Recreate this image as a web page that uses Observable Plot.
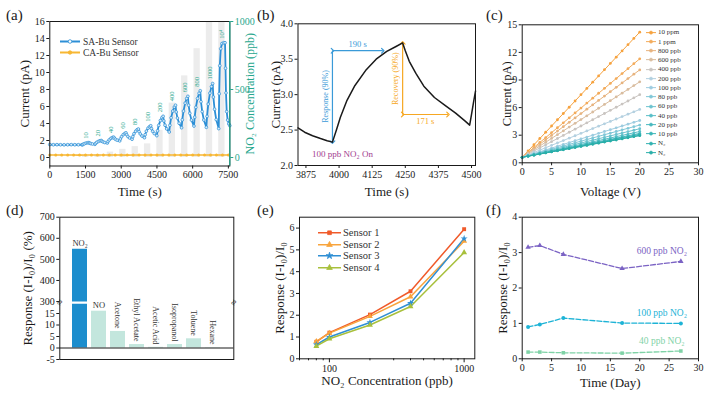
<!DOCTYPE html>
<html><head><meta charset="utf-8">
<script src="https://cdn.jsdelivr.net/npm/d3@7"></script>
<script src="https://cdn.jsdelivr.net/npm/@observablehq/plot@0.6"></script>
<style>
body{margin:0;background:#fff;}
#fig{position:relative;width:708px;height:395px;overflow:hidden;font-family:"Liberation Serif","Times New Roman",serif;color:#1a1a1a;}
.plabel{position:absolute;font-size:15px;line-height:15px;}
.legend{position:absolute;white-space:nowrap;}
.legend .row{display:flex;align-items:center;}
</style></head><body><div id="fig"></div>
<script>
// ================= DATA =================
// (a) dynamic response
const saTime = [0,150,300,450,600,750,900,1050,1200,1350,
 1375,1405,1455,1525,1590,1640,1670,1720,1790,
 1895,1925,1975,2045,2110,2160,2190,2240,2310,
 2415,2445,2495,2565,2630,2680,2710,2760,2830,
 2935,2965,3015,3085,3150,3200,3230,3280,3350,
 3455,3485,3535,3605,3670,3720,3750,3800,3870,
 3975,4005,4055,4125,4190,4240,4270,4320,4390,
 4495,4525,4575,4645,4710,4760,4790,4840,4910,
 5015,5045,5095,5165,5230,5280,5310,5360,5430,
 5535,5565,5615,5685,5750,5800,5830,5880,5950,
 6055,6085,6135,6205,6270,6320,6350,6400,6470,
 6575,6605,6655,6725,6790,6840,6870,6920,6990,
 7095,7115,7140,7180,7230,7300,7360,7380,7400,7430,7470,7520,7560];
const saCurrent = [1.52,1.5,1.51,1.5,1.49,1.5,1.51,1.5,1.5,1.5,
 1.5,1.56,1.63,1.70,1.73,1.75,1.69,1.64,1.59,
 1.55,1.66,1.79,1.90,1.97,2.0,1.91,1.83,1.76,
 1.7,1.88,2.07,2.25,2.35,2.4,2.27,2.14,2.04,
 1.95,2.19,2.45,2.69,2.83,2.9,2.68,2.47,2.3,
 2.15,2.45,2.79,3.09,3.27,3.35,3.04,2.77,2.53,
 2.33,2.68,3.1,3.45,3.63,3.73,3.4,3.08,2.82,
 2.57,3.14,3.78,4.35,4.69,4.85,4.3,3.8,3.37,
 3.0,3.79,4.67,5.46,5.93,6.15,5.36,4.64,4.03,
 3.5,4.43,5.46,6.39,6.94,7.2,6.15,5.2,4.4,
 3.7,4.74,5.9,6.94,7.56,7.85,6.56,5.4,4.41,
 3.55,4.84,6.28,7.57,8.34,8.7,7.11,5.68,4.46,
 3.4,7.5,10.8,12.8,13.4,13.5,13.5,10.5,7.6,5.4,4.4,3.95,3.75];
const caTime = [0,250,500,750,1000,1250,1500,1750,2000,2250,2500,2750,3000,3250,3500,3750,4000,4250,4500,4750,5000,5250,5500,5750,6000,6250,6500,6750,7000,7250,7500];
const caCurrent = [0.3,0.29,0.29,0.3,0.29,0.28,0.29,0.3,0.29,0.29,0.3,0.29,0.29,0.28,0.29,0.3,0.29,0.29,0.3,0.29,0.29,0.3,0.29,0.28,0.29,0.29,0.3,0.29,0.29,0.3,0.29];
const pulseStart = [1375,1895,2415,2935,3455,3975,4495,5015,5535,6055,6575,7095];
const pulseOn = 265;
const pulseConc = [10,20,40,60,80,100,200,400,600,800,1000,10000];
const pulseLabel = ["10","20","40","60","80","100","200","400","600","800","1000","10⁴"];
const pulsePeak = [1.75,2.0,2.4,2.9,3.35,3.73,4.85,6.15,7.2,7.85,8.7,13.5];
const aTicksX = [0,1500,3000,4500,6000,7500];
const aTicksY = [0,2,4,6,8,10,12,14,16];
const aConcTicks = [0,500,1000];

// (b) single cycle, 100 ppb
const bTime = [3845,3870,3900,3930,3955,3975,3990,4005,4030,4060,4100,4140,4180,4215,4240,4250,4265,4290,4320,4360,4400,4440,4475,4493,4500,4508,4515];
const bCurrent = [2.53,2.47,2.42,2.38,2.35,2.33,2.5,2.68,2.92,3.13,3.34,3.5,3.61,3.68,3.73,3.62,3.47,3.3,3.12,2.96,2.85,2.74,2.63,2.57,2.72,2.9,3.05];
const respOnset = 3975, respTime90 = 190, respBase = 2.33, resp90Level = 3.62;
const recOnset = 4240, recTime90 = 171, recPeak = 3.73, rec90Level = 2.72;
const bTicksX = [3875,4000,4125,4250,4375,4500];
const bTicksY = [2.0,2.5,3.0,3.5,4.0];

// (c) I-V curves
const cVoltage = [0,1,2,3,4,5,6,7,8,9,10,11,12,13,14,15,16,17,18,19,20];
const c10ppm = [0.6,1.28,1.96,2.64,3.32,4.0,4.68,5.36,6.04,6.72,7.4,8.08,8.76,9.44,10.12,10.8,11.48,12.16,12.84,13.52,14.2];
const c1ppm  = [0.6,1.14,1.67,2.21,2.74,3.28,3.81,4.35,4.88,5.42,5.95,6.49,7.02,7.56,8.09,8.63,9.16,9.7,10.23,10.77,11.3];
const c800   = [0.6,1.08,1.55,2.03,2.5,2.98,3.45,3.93,4.4,4.88,5.35,5.83,6.3,6.78,7.25,7.73,8.2,8.68,9.15,9.63,10.1];
const c600   = [0.6,1.01,1.42,1.83,2.24,2.65,3.06,3.47,3.88,4.29,4.7,5.11,5.52,5.93,6.34,6.75,7.16,7.57,7.98,8.39,8.8];
const c400   = [0.6,0.94,1.28,1.62,1.96,2.3,2.64,2.98,3.32,3.66,4.0,4.34,4.68,5.02,5.36,5.7,6.04,6.38,6.72,7.06,7.4];
const c200   = [0.6,0.86,1.12,1.38,1.64,1.9,2.16,2.42,2.68,2.94,3.2,3.46,3.72,3.98,4.24,4.5,4.76,5.02,5.28,5.54,5.8];
const c100   = [0.6,0.8,1.0,1.2,1.4,1.6,1.8,2.0,2.2,2.4,2.6,2.8,3.0,3.2,3.4,3.6,3.8,4.0,4.2,4.4,4.6];
const c80    = [0.6,0.78,0.95,1.13,1.3,1.48,1.65,1.83,2.0,2.18,2.35,2.53,2.7,2.88,3.05,3.23,3.4,3.58,3.75,3.93,4.1];
const c60    = [0.6,0.76,0.91,1.07,1.22,1.38,1.53,1.69,1.84,2.0,2.15,2.31,2.46,2.62,2.77,2.93,3.08,3.24,3.39,3.55,3.7];
const c40    = [0.6,0.74,0.88,1.02,1.16,1.3,1.44,1.58,1.72,1.86,2.0,2.14,2.28,2.42,2.56,2.7,2.84,2.98,3.12,3.26,3.4];
const c20    = [0.6,0.73,0.86,0.99,1.12,1.25,1.38,1.51,1.64,1.77,1.9,2.03,2.16,2.29,2.42,2.55,2.68,2.81,2.94,3.07,3.2];
const c10    = [0.6,0.73,0.85,0.98,1.1,1.23,1.35,1.48,1.6,1.73,1.85,1.98,2.1,2.23,2.35,2.48,2.6,2.73,2.85,2.98,3.1];
const cN2a   = [0.6,0.72,0.84,0.96,1.08,1.2,1.32,1.44,1.56,1.68,1.8,1.92,2.04,2.16,2.28,2.4,2.52,2.64,2.76,2.88,3.0];
const cN2b   = [0.6,0.72,0.83,0.95,1.07,1.19,1.31,1.42,1.54,1.66,1.78,1.89,2.01,2.13,2.25,2.37,2.48,2.6,2.72,2.84,2.95];
const cLabels = ["10 ppm","1 ppm","800 ppb","600 ppb","400 ppb","200 ppb","100 ppb","80 ppb","60 ppb","40 ppb","20 ppb","10 ppb","N₂","N₂"];
const cColors = ["#f6a23e","#f3ab5b","#e7b37e","#d9bc9e","#c9c4c0","#b3d0e0","#9dcce0","#80c7d7","#6cc3cf","#58bec7","#46b8be","#3ab5b7","#30b1b0","#29aea8"];
const cTicksX = [0,5,10,15,20,25,30];
const cTicksY = [0,3,6,9,12,15];

// (d) selectivity
const dGases = ["NO₂","NO","Acetone","Ethyl Acetate","Acetic Acid","Isopropanol","Toluene","Hexane"];
const dResponse = [548,16,7.2,1.5,0.3,1.5,4.0,0.15];
const dLowerTicks = [-5,0,5,10,15];
const dUpperTicks = [300,400,500,600,700];

// (e) reproducibility
const eConc = [80,100,200,400,1000];
const eSensor1 = [0.78,1.2,2.03,3.1,5.95];
const eSensor2 = [0.8,1.18,1.95,2.85,5.4];
const eSensor3 = [0.65,1.0,1.67,2.55,5.52];
const eSensor4 = [0.58,0.92,1.55,2.4,4.88];
const eNames = ["Sensor 1","Sensor 2","Sensor 3","Sensor 4"];
const eColors = ["#f05a2a","#f8a43c","#2f8fd4","#a8c03c"];
const eSymbols = ["square","triangle","star","triangle"];
const eMajorTicks = [100,1000];
const eMinorTicks = [60,70,80,90,200,300,400,500,600,700,800,900];
const eTicksY = [0,1,2,3,4,5,6];

// (f) stability
const fDay = [1,3,7,17,27];
const f600 = [3.15,3.2,2.95,2.55,2.75];
const f100 = [0.9,0.97,1.15,1.01,1.0];
const f40  = [0.19,0.19,0.17,0.16,0.22];
const fNames = ["600 ppb NO₂","100 ppb NO₂","40 ppb NO₂"];
const fColors = ["#7b63c4","#1db3d6","#7fd2a6"];
const fSymbols = ["triangle","circle","square"];
const fTicksX = [0,5,10,15,20,25,30];
const fTicksY = [0,1,2,3,4];

// ================= LAYOUT HELPERS =================
const fig = document.getElementById("fig");
const W = 708, H = 395;
const FONT = "'Liberation Serif','Times New Roman',serif";
const svgStyle = `position:absolute;left:0;top:0;background:transparent;overflow:visible;font-family:${FONT};font-size:10px;color:#1a1a1a;`;
function box(l, t, r, b) { return {width: W, height: H, marginLeft: l, marginTop: t, marginRight: W - r, marginBottom: H - b, style: svgStyle}; }
const fmt = d => String(d);
const INK = "#1a1a1a";
const TEAL = "#27a78e";
const saBlue = "#2c8fd6", caOrange = "#f7b733";
function yTitle(txt, dx, opts = {}) { return Plot.text([txt], {frameAnchor: opts.right ? "right" : "left", dx, rotate: -90, textAnchor: "middle", lineAnchor: "middle", fontSize: opts.fontSize || 13, fill: opts.fill || INK}); }
function xTitle(txt, dy, opts = {}) { return Plot.text([txt], {frameAnchor: "bottom", dy, textAnchor: "middle", lineAnchor: "middle", fontSize: opts.fontSize || 13, fill: opts.fill || INK}); }

function panelLabel(txt, left, top) {
  const d = document.createElement("div");
  d.className = "plabel"; d.textContent = txt;
  d.style.left = left + "px"; d.style.top = top + "px";
  fig.appendChild(d);
}
function symbolPath(name, size) {
  const m = {circle: d3.symbolCircle, square: d3.symbolSquare, triangle: d3.symbolTriangle, star: d3.symbolStar};
  return d3.symbol(m[name] || d3.symbolCircle, size)();
}
function legend(items, left, top, rowH, lineW, gap, fontSize) {
  const div = document.createElement("div");
  div.className = "legend";
  div.style.cssText = `left:${left}px;top:${top}px;font-size:${fontSize}px;`;
  for (const it of items) {
    const row = document.createElement("div");
    row.className = "row";
    row.style.height = rowH + "px";
    const mid = rowH / 2;
    const fill = it.open ? "#fff" : it.color;
    row.innerHTML = `<svg width="${lineW}" height="${rowH}" style="margin-right:${gap}px;overflow:visible"><line x1="0" x2="${lineW}" y1="${mid}" y2="${mid}" stroke="${it.color}" stroke-width="${it.sw || 1.5}"/><path transform="translate(${lineW/2},${mid})" d="${symbolPath(it.symbol, it.size || 10)}" fill="${fill}" stroke="${it.color}" stroke-width="0.8"/></svg><span style="color:${it.textColor || '#333'}">${it.label}</span>`;
    div.appendChild(row);
  }
  fig.appendChild(div);
}

// ================= (a) =================
const aXDomain = [0, 7560], aYDomain = [-1, 16];
const pAperPpb = 16 / 1000;
const saRows = saTime.map((t, i) => ({t, I: saCurrent[i]}));
const caRows = caTime.map((t, i) => ({t, I: caCurrent[i]}));
const pulses = pulseStart.map((s, i) => ({start: s, end: s + pulseOn, mid: s + pulseOn / 2, conc: pulseConc[i], label: pulseLabel[i], peak: pulsePeak[i]}));
fig.appendChild(Plot.plot({
  ...box(49.3, 21, 229.3, 165.5),
  x: {domain: aXDomain}, y: {domain: aYDomain},
  marks: [
    Plot.rectY(pulses, {x1: "start", x2: "end", y: d => Math.min(d.conc, 1000) * pAperPpb, fill: "#ececec"}),
    Plot.line(caRows, {x: "t", y: "I", stroke: caOrange, strokeWidth: 1.6}),
    Plot.dot(caRows, {x: "t", y: "I", fill: caOrange, r: 1.5}),
    Plot.line(saRows, {x: "t", y: "I", stroke: saBlue, strokeWidth: 1.8}),
    Plot.dot(saRows, {x: "t", y: "I", fill: "#d8ecfa", stroke: saBlue, strokeWidth: 0.7, r: 1.4}),
    Plot.text(pulses, {x: "mid", y: "peak", text: "label", rotate: -90, textAnchor: "start", dy: -4, fill: TEAL, fontSize: 6.5}),
    Plot.frame({stroke: INK}),
    Plot.ruleX([aXDomain[1]], {stroke: TEAL, strokeWidth: 1.3}),
    Plot.axisX({ticks: aTicksX, tickFormat: fmt, tickSize: 3, tickPadding: 2, fontSize: 10, label: null}),
    Plot.axisY({ticks: aTicksY, tickFormat: fmt, tickSize: 3, tickPadding: 2, fontSize: 10, label: null}),
    Plot.axisY({anchor: "right", ticks: aConcTicks.map(c => c * pAperPpb), tickFormat: d => String(Math.round(d / pAperPpb)), tickSize: 3, tickPadding: 2, fill: TEAL, stroke: TEAL, fontSize: 10, label: null}),
    yTitle("Current (pA)", -25),
    yTitle("NO₂ Concentration (ppb)", 20, {right: true, fill: TEAL, fontSize: 12}),
    xTitle("Time (s)", 26)
  ]
}));
legend([
  {label: "SA-Bu Sensor", color: saBlue, symbol: "circle", open: true, size: 10, sw: 2},
  {label: "CA-Bu Sensor", color: caOrange, symbol: "circle", size: 10, sw: 2}
], 60, 36, 11, 20, 3, 9.5);

// ================= (b) =================
const bRows = bTime.map((t, i) => ({t, I: bCurrent[i]}));
const bBlue = "#3a9ad8", bOrange = "#f6a722", bPurple = "#a23d8f";
fig.appendChild(Plot.plot({
  ...box(297.5, 23.3, 475, 165),
  x: {domain: [3845, 4515]}, y: {domain: [2, 4]},
  marks: [
    Plot.link([{x1: respOnset, y1: resp90Level, x2: respOnset, y2: respBase}], {x1: "x1", y1: "y1", x2: "x2", y2: "y2", stroke: bBlue, strokeWidth: 1.2, markerEnd: "arrow"}),
    Plot.link([{x1: respOnset, y1: resp90Level, x2: respOnset + respTime90, y2: resp90Level}], {x1: "x1", y1: "y1", x2: "x2", y2: "y2", stroke: bBlue, strokeWidth: 1.2, markerStart: "arrow", markerEnd: "arrow"}),
    Plot.link([{x1: recOnset, y1: rec90Level, x2: recOnset, y2: recPeak}], {x1: "x1", y1: "y1", x2: "x2", y2: "y2", stroke: bOrange, strokeWidth: 1.2, markerEnd: "arrow"}),
    Plot.link([{x1: recOnset, y1: rec90Level, x2: recOnset + recTime90, y2: rec90Level}], {x1: "x1", y1: "y1", x2: "x2", y2: "y2", stroke: bOrange, strokeWidth: 1.2, markerStart: "arrow", markerEnd: "arrow"}),
    Plot.line(bRows, {x: "t", y: "I", stroke: "#1a1a1a", strokeWidth: 1.5}),
    Plot.text([{x: respOnset, y: (respBase + resp90Level) / 2}], {x: "x", y: "y", text: () => "Response (90%)", rotate: -90, dx: -7, fill: bBlue, fontSize: 8}),
    Plot.text([{x: recOnset, y: (recPeak + rec90Level) / 2}], {x: "x", y: "y", text: () => "Recovery (90%)", rotate: -90, dx: -7, fill: bOrange, fontSize: 8}),
    Plot.text([{x: respOnset + respTime90 / 2, y: resp90Level}], {x: "x", y: "y", text: () => respTime90 + " s", dy: -6, fill: bBlue, fontSize: 8.5}),
    Plot.text([{x: recOnset + recTime90 / 2, y: rec90Level}], {x: "x", y: "y", text: () => recTime90 + " s", dy: 7, fill: bOrange, fontSize: 8.5}),
    Plot.text(["100 ppb NO₂ On"], {frameAnchor: "bottom-left", dx: 14, dy: -11, textAnchor: "start", lineAnchor: "middle", fill: bPurple, fontSize: 9}),
    Plot.frame({stroke: INK}),
    Plot.axisX({ticks: bTicksX, tickFormat: fmt, tickSize: 3, tickPadding: 2, fontSize: 10, label: null}),
    Plot.axisY({ticks: bTicksY, tickFormat: d3.format(".1f"), tickSize: 3, tickPadding: 2, fontSize: 10, label: null}),
    yTitle("Current (pA)", -22),
    xTitle("Time (s)", 26.5)
  ]
}));

// ================= (c) =================
const cSeries = [c10ppm, c1ppm, c800, c600, c400, c200, c100, c80, c60, c40, c20, c10, cN2a, cN2b];
const cRows = cSeries.flatMap((vals, si) => vals.map((v, i) => ({V: cVoltage[i], I: v, si, col: cColors[si]})));
fig.appendChild(Plot.plot({
  ...box(521.7, 24.3, 698, 162.3),
  x: {domain: [0, 30]}, y: {domain: [0, 15]},
  marks: [
    Plot.line(cRows, {x: "V", y: "I", z: "si", stroke: "col", strokeWidth: 1}),
    Plot.dot(cRows, {x: "V", y: "I", fill: "col", r: 1.4}),
    Plot.frame({stroke: INK}),
    Plot.axisX({ticks: cTicksX, tickFormat: fmt, tickSize: 3, tickPadding: 2, fontSize: 10, label: null}),
    Plot.axisY({ticks: cTicksY, tickFormat: fmt, tickSize: 3, tickPadding: 2, fontSize: 10, label: null}),
    yTitle("Current (pA)", -15.5, {fontSize: 12.5}),
    xTitle("Voltage (V)", 29.5)
  ]
}));
legend(cLabels.map((l, i) => ({label: l, color: cColors[i], symbol: "circle", size: 7, sw: 1})), 646, 27.7, 9.26, 10, 2, 7);

// ================= (d) =================
const breakAt = 300, breakBase = 20.2, upperScale = 0.0917;
const dDisp = v => v < breakAt ? v : breakBase + (v - breakAt) * upperScale;
const dUndisp = d => breakAt + (d - breakBase) / upperScale;
const dRows = dGases.map((g, i) => ({g, v: dResponse[i], y: dDisp(dResponse[i]), main: i === 0}));
const dHoriz = dRows.slice(0, 2), dRot = dRows.slice(2);
const dGap = breakBase - 0.45;
const dBox = box(59.3, 216.7, 233.3, 359);
const dYDomain = [-5, dDisp(700)];
fig.appendChild(Plot.plot({
  ...dBox,
  x: {domain: dGases, paddingInner: 0.22, paddingOuter: 0.62, axis: null},
  y: {domain: dYDomain},
  marks: [
    Plot.barY(dRows, {x: "g", y: "y", fill: d => d.main ? "#1c8dcd" : "#c3e6dd"}),
    Plot.ruleY([dGap], {stroke: "#fff", strokeWidth: 2.2}),
    Plot.ruleY([0], {stroke: INK, strokeWidth: 1}),
    Plot.text(dHoriz, {x: "g", y: "y", text: "g", dy: -6, fontSize: 8.5, fill: "#333"}),
    Plot.text(dRot, {x: "g", y: "y", text: "g", rotate: 90, textAnchor: "end", dy: -3, fontSize: 8, fill: "#333"}),
    Plot.frame({stroke: INK}),
    Plot.text([dGap], {y: d => d, text: () => "≈", frameAnchor: "left", textAnchor: "middle", rotate: -60, fontSize: 10, fill: INK}),
    Plot.text([dGap], {y: d => d, text: () => "≈", frameAnchor: "right", textAnchor: "middle", rotate: -60, fontSize: 10, fill: INK}),
    Plot.axisY({ticks: dLowerTicks, tickFormat: fmt, tickSize: 3, tickPadding: 2, fontSize: 10, label: null}),
    Plot.axisY({ticks: dUpperTicks.map(dDisp), tickFormat: d => String(Math.round(dUndisp(d))), tickSize: 3, tickPadding: 2, fontSize: 10, label: null}),
    yTitle("Response (I-I₀)/I₀ (%)", -32)
  ]
}));

// ================= (e) =================
const eSeries = [eSensor1, eSensor2, eSensor3, eSensor4];
const eRows = eSeries.flatMap((vals, si) => vals.map((v, i) => ({c: eConc[i], r: v, si, col: eColors[si], sym: eSymbols[si]})));
fig.appendChild(Plot.plot({
  ...box(299, 216.7, 474.3, 358.3),
  x: {type: "log", domain: [60, 1200]}, y: {domain: [0, 6.5]},
  symbol: {type: "identity"},
  marks: [
    Plot.line(eRows, {x: "c", y: "r", z: "si", stroke: "col", strokeWidth: 1.5}),
    Plot.dot(eRows, {x: "c", y: "r", fill: "col", symbol: "sym", r: 2.2}),
    Plot.frame({stroke: INK}),
    Plot.axisX({ticks: eMajorTicks, tickFormat: fmt, tickSize: 4, tickPadding: 2, fontSize: 10, label: null}),
    Plot.axisX({ticks: eMinorTicks, tickFormat: () => "", tickSize: 2, label: null}),
    Plot.axisY({ticks: eTicksY, tickFormat: fmt, tickSize: 3, tickPadding: 2, fontSize: 10, label: null}),
    yTitle("Response (I-I₀)/I₀", -20),
    xTitle("NO₂ Concentration (ppb)", 22)
  ]
}));
legend(eNames.map((n, i) => ({label: n, color: eColors[i], symbol: eSymbols[i], size: 14, sw: 1.5})), 318, 227, 11.5, 23, 2, 10.5);

// ================= (f) =================
const fSeries = [f600, f100, f40];
const fRows = fSeries.flatMap((vals, si) => vals.map((v, i) => ({d: fDay[i], r: v, si, col: fColors[si], sym: fSymbols[si]})));
const fLabelRows = fSeries.map((vals, si) => ({d: fDay[fDay.length - 1], r: vals[vals.length - 1], name: fNames[si], col: fColors[si]}));
fig.appendChild(Plot.plot({
  ...box(521.7, 216.7, 698, 358.3),
  x: {domain: [0, 30]}, y: {domain: [0, 4]},
  symbol: {type: "identity"},
  marks: [
    Plot.line(fRows, {x: "d", y: "r", z: "si", stroke: "col", strokeWidth: 1.3, strokeDasharray: "5,2"}),
    Plot.dot(fRows, {x: "d", y: "r", fill: "col", symbol: "sym", r: 2}),
    Plot.text(fLabelRows, {x: "d", y: "r", text: "name", fill: "col", dx: -19, dy: -10, fontSize: 9.5}),
    Plot.frame({stroke: INK}),
    Plot.axisX({ticks: fTicksX, tickFormat: fmt, tickSize: 3, tickPadding: 2, fontSize: 10, label: null}),
    Plot.axisY({ticks: fTicksY, tickFormat: fmt, tickSize: 3, tickPadding: 2, fontSize: 10, label: null}),
    yTitle("Response (I-I₀)/I₀", -19),
    xTitle("Time (Day)", 24.5)
  ]
}));

// ================= panel labels =================
panelLabel("(a)", 6, 8);
panelLabel("(b)", 257, 8);
panelLabel("(c)", 486, 8);
panelLabel("(d)", 6, 203);
panelLabel("(e)", 257, 203);
panelLabel("(f)", 486, 203);
</script></body></html>
